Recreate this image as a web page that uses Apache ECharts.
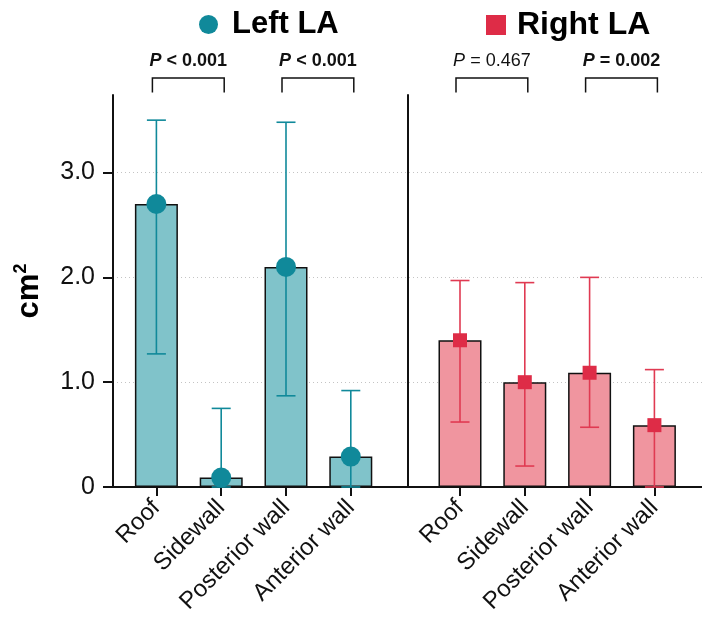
<!DOCTYPE html>
<html>
<head>
<meta charset="utf-8">
<script src="https://cdn.jsdelivr.net/npm/echarts@6/dist/echarts.min.js"></script>
<style>
  html, body { margin: 0; padding: 0; background: #fff; }
  #chart { width: 702px; height: 632px; }
</style>
</head>
<body>
<div id="chart"></div>
<script>
// ---- data ----
var categories = ['Roof', 'Sidewall', 'Posterior wall', 'Anterior wall'];
var leftMean  = [2.70, 0.09, 2.10, 0.29];
var leftLow   = [1.27, 0.00, 0.87, 0.00];
var leftHigh  = [3.50, 0.75, 3.48, 0.92];
var rightMean = [1.40, 1.00, 1.09, 0.59];
var rightLow  = [0.62, 0.20, 0.57, 0.00];
var rightHigh = [1.97, 1.95, 2.00, 1.12];
var yTickValues = [0, 1, 2, 3];
var yTickLabels = ['0', '1.0', '2.0', '3.0'];
var yMinorTicks = [0.5, 1.5, 2.5, 3.5];
var leftPairs  = [[0, 1], [2, 3]];
var leftPText  = [' < 0.001', ' < 0.001'];
var leftPBold  = [true, true];
var rightPairs = [[0, 1], [2, 3]];
var rightPText = [' = 0.467', ' = 0.002'];
var rightPBold = [false, true];

// ---- styles ----
var FONT = "'Liberation Sans', Arial, Helvetica, sans-serif";
var tealFill = '#80c3ca', tealDark = '#10899a';
var redFill = '#f0959f', redDark = '#de2c47', redErr = '#e03a52';
var Y_MAX = 3.74;

var chart = echarts.init(document.getElementById('chart'), null, { renderer: 'canvas' });

function errData(low, high) {
  return low.map(function (l, i) { return [i, l, high[i]]; });
}
function errRender(color) {
  return function (params, api) {
    var i = api.value(0);
    var top = api.coord([i, api.value(2)]);
    var bot = api.coord([i, api.value(1)]);
    var hw = 9.5;
    var st = { stroke: color, lineWidth: 1.6 };
    return {
      type: 'group',
      children: [
        { type: 'line', shape: { x1: top[0], y1: top[1], x2: bot[0], y2: bot[1] }, style: st },
        { type: 'line', shape: { x1: top[0] - hw, y1: top[1], x2: top[0] + hw, y2: top[1] }, style: st },
        { type: 'line', shape: { x1: bot[0] - hw, y1: bot[1], x2: bot[0] + hw, y2: bot[1] }, style: st }
      ]
    };
  };
}
function bracketRender(texts, bolds) {
  return function (params, api) {
    var a = api.coord([api.value(0), 0]);
    var b = api.coord([api.value(1), 0]);
    var top = api.coord([api.value(0), Y_MAX])[1] - 17;
    var bot = top + 14.5;
    var x1 = a[0] - 4, x2 = b[0] + 3;
    var bold = bolds[params.dataIndex];
    return {
      type: 'group',
      children: [
        { type: 'polyline', shape: { points: [[x1, bot], [x1, top], [x2, top], [x2, bot]] },
          style: { stroke: '#111', lineWidth: 1.5, fill: null } },
        { type: 'text', x: (x1 + x2) / 2, y: top - 17,
          style: {
            text: '{p|P}{v|' + texts[params.dataIndex] + '}',
            align: 'center', verticalAlign: 'middle',
            rich: {
              p: { fontFamily: FONT, fontSize: 18, fontStyle: 'italic', fontWeight: bold ? 'bold' : 'normal', fill: '#111' },
              v: { fontFamily: FONT, fontSize: 18, fontWeight: bold ? 'bold' : 'normal', fill: '#111' }
            }
          } }
      ]
    };
  };
}

var gridTop = 95, gridBottom = 145;

var option = {
  backgroundColor: '#fff',
  animation: false,
  textStyle: { fontFamily: FONT },
  legend: [
    { data: ['Left LA'], left: 194, top: 4, itemWidth: 19, itemHeight: 19, selectedMode: false,
      textStyle: { fontSize: 31, fontWeight: 'bold', color: '#000', fontFamily: FONT, padding: [0, 0, 0, 9] } },
    { data: ['Right LA'], left: 481, top: 4, itemWidth: 20, itemHeight: 20, selectedMode: false,
      textStyle: { fontSize: 32, fontWeight: 'bold', color: '#000', fontFamily: FONT, padding: [0, 0, 0, 6] } }
  ],
  grid: [
    { left: 113, right: 0, top: gridTop, bottom: gridBottom },
    { left: 124, width: 259.2, top: gridTop, bottom: gridBottom },
    { left: 427.6, width: 259.2, top: gridTop, bottom: gridBottom }
  ],
  xAxis: [
    { gridIndex: 0, type: 'value', min: 0, max: 1,
      axisLine: { show: true, lineStyle: { color: '#111', width: 2 } },
      axisTick: { show: false }, axisLabel: { show: false }, splitLine: { show: false } },
    { gridIndex: 1, type: 'category', data: categories,
      axisLine: { show: false },
      axisTick: { show: true, alignWithLabel: true, length: 9, lineStyle: { color: '#111', width: 2 } },
      axisLabel: { rotate: 45, fontSize: 24, color: '#111', margin: 17, interval: 0, fontFamily: FONT } },
    { gridIndex: 2, type: 'category', data: categories,
      axisLine: { show: false },
      axisTick: { show: true, alignWithLabel: true, length: 9, lineStyle: { color: '#111', width: 2 } },
      axisLabel: { rotate: 45, fontSize: 24, color: '#111', margin: 17, interval: 0, fontFamily: FONT } }
  ],
  yAxis: [
    { gridIndex: 0, type: 'value', min: 0, max: Y_MAX, interval: 1,
      name: '{a|cm}{b|2}', nameLocation: 'middle', nameGap: 67, nameRotate: 90,
      nameTextStyle: {
        rich: {
          a: { fontSize: 31, fontWeight: 'bold', color: '#000', fontFamily: FONT, lineHeight: 34 },
          b: { fontSize: 18, fontWeight: 'bold', color: '#000', fontFamily: FONT, verticalAlign: 'top', lineHeight: 34 }
        }
      },
      axisLine: { show: true, lineStyle: { color: '#111', width: 2 } },
      axisTick: { show: true, customValues: yTickValues, length: 10, lineStyle: { color: '#111', width: 2 } },
      axisLabel: { customValues: yTickValues, fontSize: 25, color: '#111', margin: 18, fontFamily: FONT,
        formatter: function (v) { return yTickLabels[yTickValues.indexOf(v)]; } },
      splitLine: { show: true, showMinLine: false, showMaxLine: true,
        lineStyle: { color: '#c4c4c4', type: [1, 3], width: 1 } } },
    { gridIndex: 0, type: 'value', min: 0, max: Y_MAX,
      axisLine: { show: false },
      axisTick: { show: true, customValues: yMinorTicks, length: 5, lineStyle: { color: '#111', width: 2 } },
      axisLabel: { show: false }, splitLine: { show: false } },
    { gridIndex: 1, type: 'value', min: 0, max: Y_MAX, show: false },
    { gridIndex: 2, type: 'value', min: 0, max: Y_MAX, offset: 20,
      axisLine: { show: true, lineStyle: { color: '#111', width: 2 } },
      axisTick: { show: false }, axisLabel: { show: false }, splitLine: { show: false } }
  ],
  series: [
    { name: 'Left bars', type: 'bar', xAxisIndex: 1, yAxisIndex: 2, data: leftMean, barWidth: 43,
      itemStyle: { color: tealFill, borderColor: '#111', borderWidth: 1.5 }, z: 2 },
    { name: 'Right bars', type: 'bar', xAxisIndex: 2, yAxisIndex: 3, data: rightMean, barWidth: 43,
      itemStyle: { color: redFill, borderColor: '#111', borderWidth: 1.5 }, z: 2 },
    { name: 'Left err', type: 'custom', xAxisIndex: 1, yAxisIndex: 2, data: errData(leftLow, leftHigh),
      encode: { x: 0, y: [1, 2] }, renderItem: errRender(tealDark), clip: false, z: 3 },
    { name: 'Right err', type: 'custom', xAxisIndex: 2, yAxisIndex: 3, data: errData(rightLow, rightHigh),
      encode: { x: 0, y: [1, 2] }, renderItem: errRender(redErr), clip: false, z: 3 },
    { name: 'Left LA', type: 'scatter', xAxisIndex: 1, yAxisIndex: 2, data: leftMean,
      symbol: 'circle', symbolSize: 20, itemStyle: { color: tealDark, opacity: 1 }, z: 4 },
    { name: 'Right LA', type: 'scatter', xAxisIndex: 2, yAxisIndex: 3, data: rightMean,
      symbol: 'rect', symbolSize: 14, itemStyle: { color: redDark, opacity: 1 }, z: 4 },
    { name: 'Left P', type: 'custom', xAxisIndex: 1, yAxisIndex: 2, data: leftPairs,
      encode: { x: [0, 1] }, renderItem: bracketRender(leftPText, leftPBold), clip: false, z: 5 },
    { name: 'Right P', type: 'custom', xAxisIndex: 2, yAxisIndex: 3, data: rightPairs,
      encode: { x: [0, 1] }, renderItem: bracketRender(rightPText, rightPBold), clip: false, z: 5 }
  ]
};
chart.setOption(option);
</script>
</body>
</html>
